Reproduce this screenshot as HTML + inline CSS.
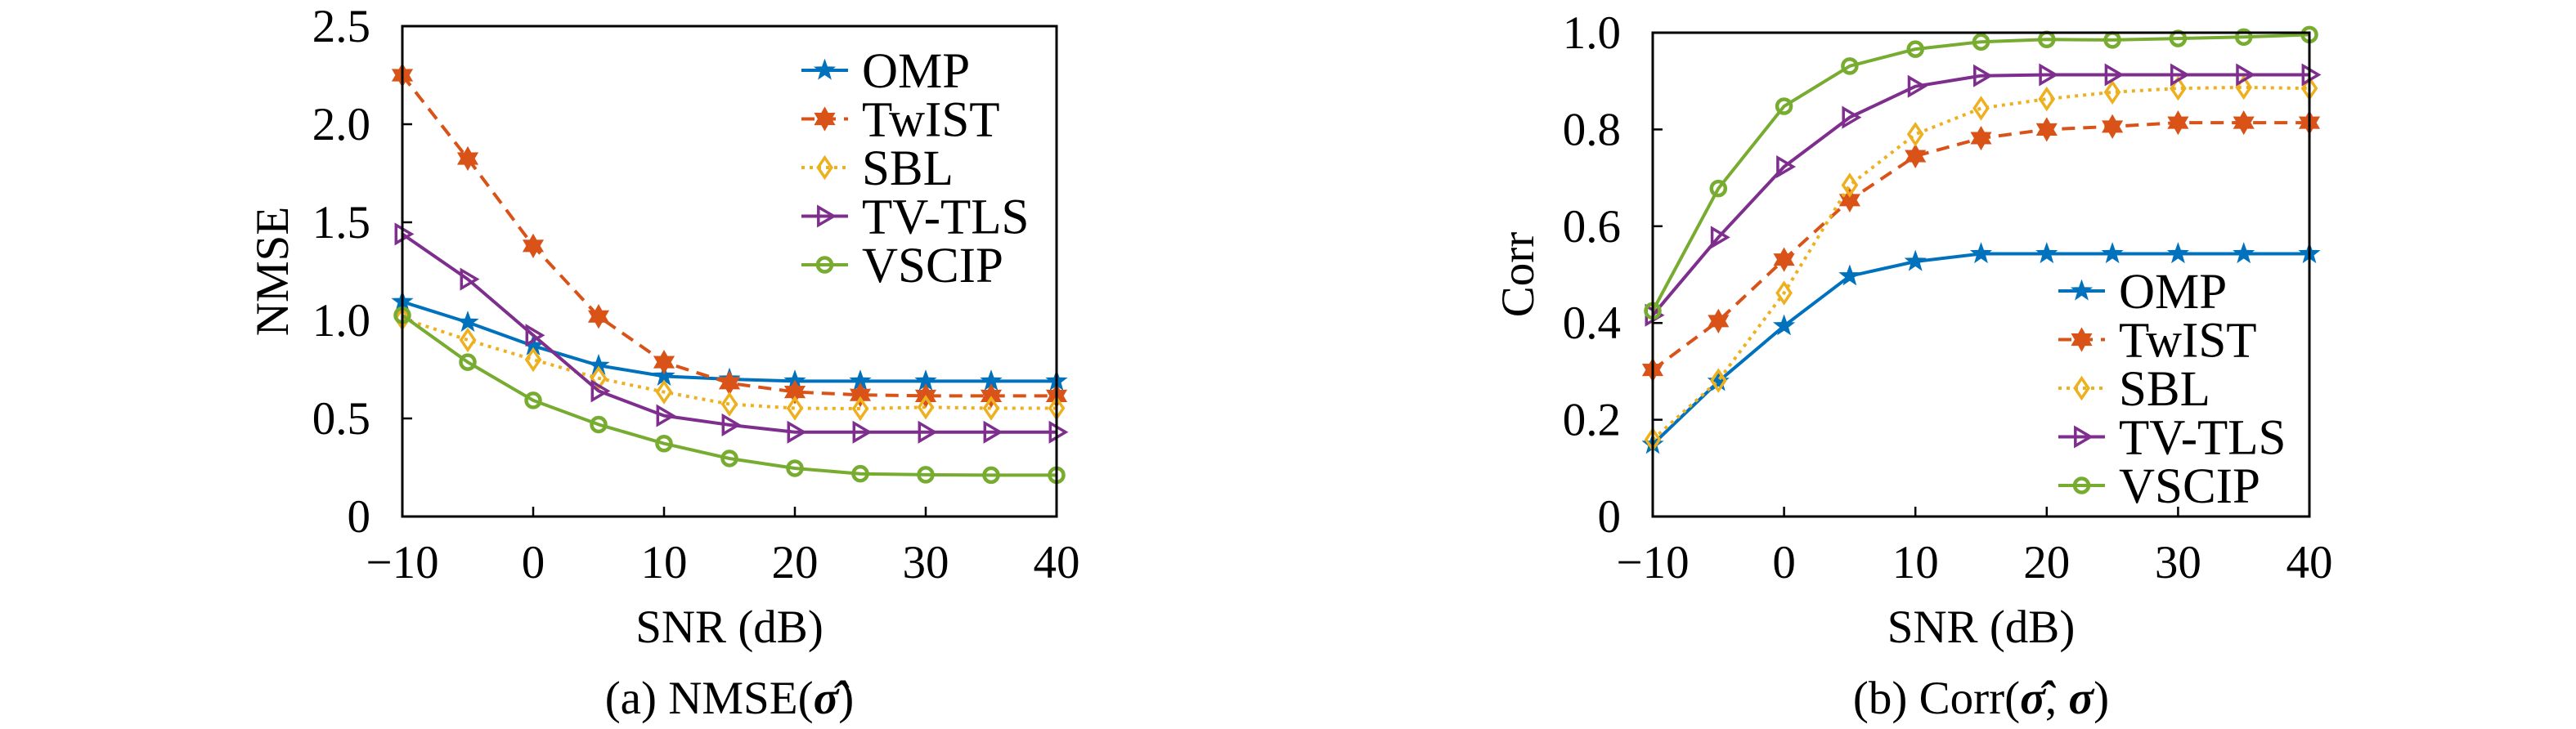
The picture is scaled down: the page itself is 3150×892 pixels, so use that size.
<!DOCTYPE html>
<html><head><meta charset="utf-8"><style>
html,body{margin:0;padding:0;background:#fff;width:3150px;height:892px;overflow:hidden}
svg{display:block}
svg text{font-family:"Liberation Serif","DejaVu Serif",serif;fill:#000}
</style></head><body>
<svg id="fig" width="3150" height="892" viewBox="0 0 3150 892" xmlns="http://www.w3.org/2000/svg" font-family="Liberation Serif, DejaVu Serif, serif"></svg>
<script>
const snr = [-10,-5,0,5,10,15,20,25,30,35,40];
const xTicks = [-10,0,10,20,30,40];
const seriesNames = ["OMP","TwIST","SBL","TV-TLS","VSCIP"];
const nmseOMP   = [1.095,0.99,0.87,0.77,0.715,0.70,0.69,0.69,0.69,0.69,0.69];
const nmseTwIST = [2.25,1.825,1.38,1.02,0.787,0.68,0.635,0.62,0.615,0.615,0.615];
const nmseSBL   = [1.01,0.90,0.80,0.705,0.635,0.573,0.552,0.55,0.557,0.552,0.552];
const nmseTVTLS = [1.44,1.21,0.924,0.64,0.514,0.467,0.43,0.43,0.43,0.43,0.43];
const nmseVSCIP = [1.026,0.787,0.592,0.469,0.372,0.296,0.246,0.218,0.213,0.211,0.211];
const nmseTicks = [0,0.5,1.0,1.5,2.0,2.5];
const nmseTickLabels = ["0","0.5","1.0","1.5","2.0","2.5"];
const corrOMP   = [0.149,0.279,0.394,0.497,0.527,0.543,0.543,0.543,0.543,0.543,0.543];
const corrTwIST = [0.303,0.404,0.531,0.654,0.745,0.782,0.80,0.806,0.814,0.814,0.814];
const corrSBL   = [0.159,0.281,0.462,0.685,0.790,0.844,0.863,0.877,0.885,0.887,0.885];
const corrTVTLS = [0.416,0.577,0.723,0.825,0.889,0.911,0.913,0.913,0.913,0.913,0.913];
const corrVSCIP = [0.425,0.678,0.848,0.931,0.966,0.981,0.986,0.985,0.988,0.991,0.996];
const corrTicks = [0,0.2,0.4,0.6,0.8,1.0];
const corrTickLabels = ["0","0.2","0.4","0.6","0.8","1.0"];

const NS="http://www.w3.org/2000/svg";
const svg=document.getElementById('fig');
const FONT="Liberation Serif, DejaVu Serif, serif";
const colors=["#0072BD","#D95319","#EDB120","#7E2F8E","#77AC30"];
const dashes=["","16,10","4,6","",""];
const markers=["star","hex","diamond","tri","circle"];
function el(tag,attrs,parent){const e=document.createElementNS(NS,tag);for(const k in attrs)e.setAttribute(k,attrs[k]);if(tag==='text')e.setAttribute('font-family',FONT);(parent||svg).appendChild(e);return e;}

function markerPath(type,x,y,r){
  let pts=[];
  if(type==="star"){for(let i=0;i<10;i++){const a=-Math.PI/2+i*Math.PI/5;const rr=i%2?r*0.45:r*1.1;pts.push([x+rr*Math.cos(a),y+rr*Math.sin(a)]);}}
  if(type==="hex"){for(let i=0;i<12;i++){const a=-Math.PI/2+i*Math.PI/6;const rr=i%2?r*0.6:r*1.05;pts.push([x+rr*Math.cos(a),y+rr*Math.sin(a)]);}}
  if(type==="diamond"){pts=[[x,y-r*1.1],[x+r*0.75,y],[x,y+r*1.1],[x-r*0.75,y]];}
  if(type==="tri"){pts=[[x-r*0.7,y-r],[x+r,y],[x-r*0.7,y+r]];}
  return "M"+pts.map(p=>p[0].toFixed(1)+","+p[1].toFixed(1)).join("L")+"Z";
}
function drawMarker(g,type,x,y,c){
  const r=11;
  if(type==="circle"){const m=el('circle',{cx:x,cy:y,r:8.5,fill:'none',stroke:c,'stroke-width':4.5},g);return;}
  const fill=(type==="star"||type==="hex")?c:'none';
  const m=el('path',{d:markerPath(type,x,y,r),fill:fill,stroke:c,'stroke-width':type==="star"?1.5:3.5,'stroke-linejoin':'miter'},g);
  
  
}

function chart(cfg){
  const {id,L,R,T,B,ymax,series,yTicks,yLabels,ylabel,ylabelX,caption,legX,legY}=cfg;
  const g=el('g',{});
  
  
  const xs=v=>L+(v-(-10))/50*(R-L);
  const ys=v=>B-v/ymax*(B-T);
  xTicks.forEach(t=>{
    const tk=el('line',{x1:xs(t),x2:xs(t),y1:B,y2:B-12,stroke:'#000','stroke-width':2.5},g);
    
    
    const tl=el('text',{x:xs(t),y:707,'font-size':57,'text-anchor':'middle'},g);
    tl.textContent=t<0?"\u2212"+Math.abs(t):String(t);
    
    
  });
  yTicks.forEach((t,i)=>{
    const tk=el('line',{x1:L,x2:L+12,y1:ys(t),y2:ys(t),stroke:'#000','stroke-width':2.5},g);
    
    
    const tl=el('text',{x:L-39,y:ys(t)+19,'font-size':57,'text-anchor':'end'},g);
    tl.textContent=yLabels[i];
    
    
  });
  series.forEach((vals,si)=>{
    const sg=el('g',{},g);
    
    
    const d=vals.map((v,i)=>(i?"L":"M")+xs(snr[i]).toFixed(1)+","+ys(v).toFixed(1)).join("");
    const p=el('path',{d:d,fill:'none',stroke:colors[si],'stroke-width':4,'stroke-dasharray':dashes[si]||'none','stroke-linejoin':'round'},sg);
    
    
    vals.forEach((v,i)=>drawMarker(sg,markers[si],xs(snr[i]),ys(v),colors[si]));
  });
  const box=el('rect',{x:L,y:T,width:R-L,height:B-T,fill:'none',stroke:'#000','stroke-width':3},g);
  
  
  const lg=el('g',{},g);
  
  
  seriesNames.forEach((n,si)=>{
    const y=legY+si*59.5;
    const eg=el('g',{},lg);
    
    
    el('line',{x1:legX,x2:legX+57,y1:y,y2:y,stroke:colors[si],'stroke-width':4,'stroke-dasharray':dashes[si]||'none'},eg);
    drawMarker(eg,markers[si],legX+28.5,y,colors[si]);
    const t=el('text',{x:legX+74,y:y+21,'font-size':61},eg);
    t.textContent=n;
  });
  const xl=el('text',{x:(L+R)/2,y:786,'font-size':57,'text-anchor':'middle'},g);
  xl.textContent="SNR (dB)";
  
  
  const cy=(T+B)/2;
  const yl=el('text',{x:ylabelX,y:cy,'font-size':57,'text-anchor':'middle',transform:`rotate(-90 ${ylabelX} ${cy})`},g);
  yl.textContent=ylabel;
  
  
  const cp=el('text',{x:(L+R)/2,y:873,'font-size':57,'text-anchor':'middle'},g);
  cp.innerHTML=caption;
  
  
}
chart({id:'nmse-chart',L:492,R:1292,T:32,B:632,ymax:2.5,
  series:[nmseOMP,nmseTwIST,nmseSBL,nmseTVTLS,nmseVSCIP],
  yTicks:nmseTicks,yLabels:nmseTickLabels,ylabel:"NMSE",ylabelX:352,
  caption:'(a) NMSE(<tspan font-weight="bold" font-style="italic">σ̂</tspan>)',legX:980,legY:86});
chart({id:'corr-chart',L:2021,R:2824,T:40,B:632,ymax:1.0,
  series:[corrOMP,corrTwIST,corrSBL,corrTVTLS,corrVSCIP],
  yTicks:corrTicks,yLabels:corrTickLabels,ylabel:"Corr",ylabelX:1875,
  caption:'(b) Corr(<tspan font-weight="bold" font-style="italic">σ̂</tspan>, <tspan font-weight="bold" font-style="italic">σ</tspan>)',legX:2517,legY:356});
</script>
</body></html>
